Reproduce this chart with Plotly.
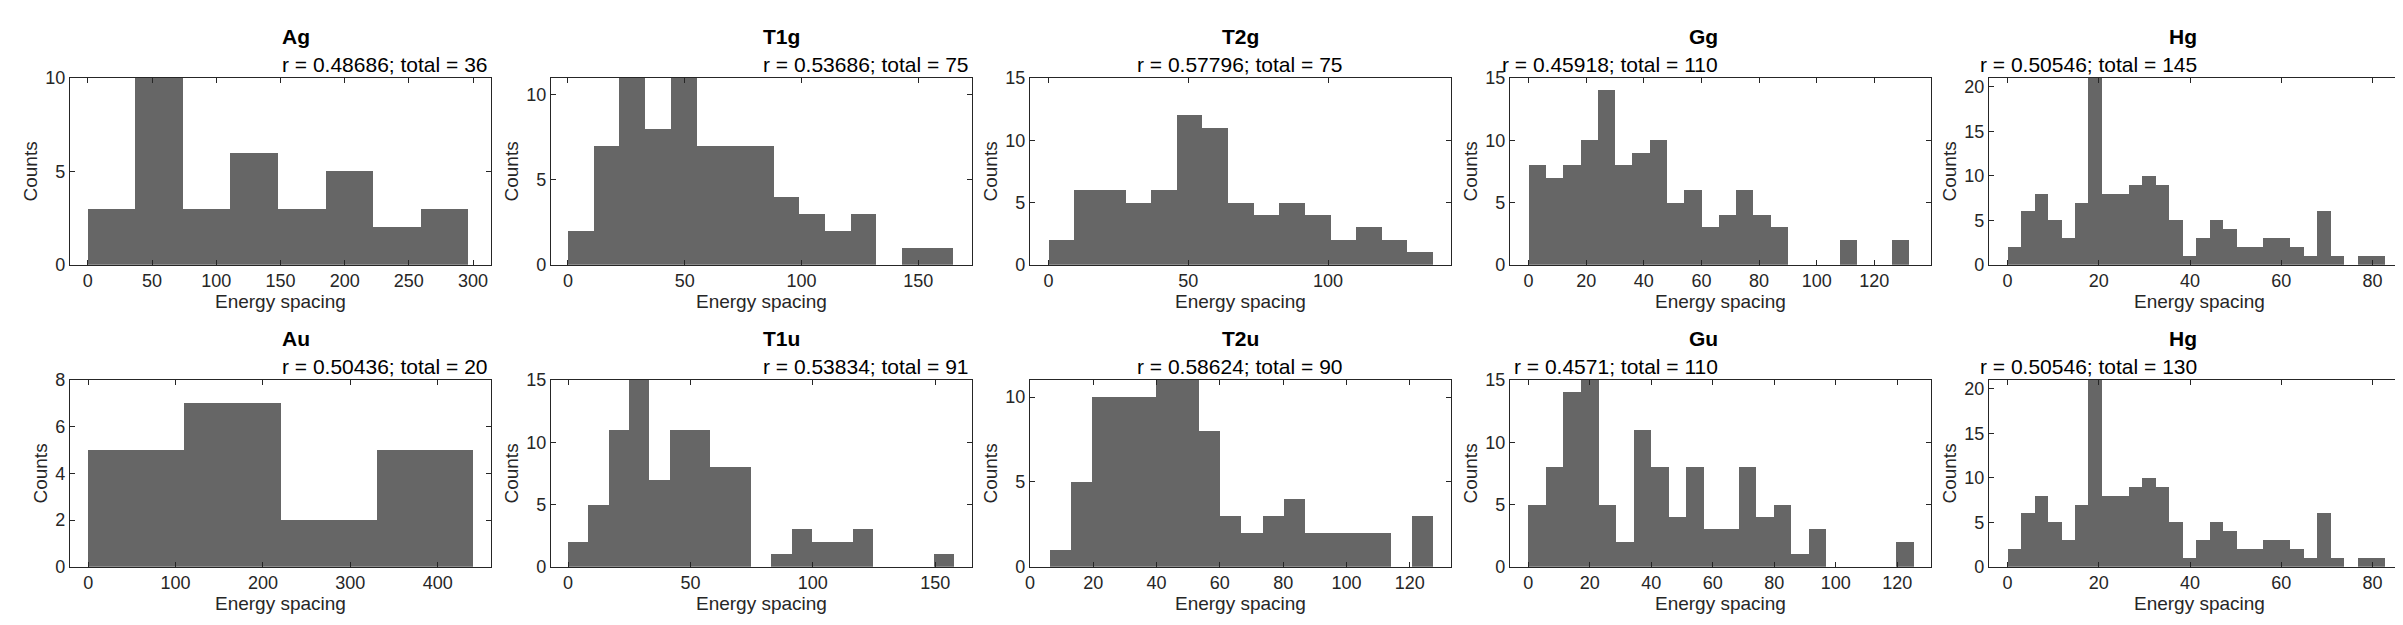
import plotly.graph_objects as go

# histogram bins: first edge, bin width, counts
names = ["Ag", "T1g", "T2g", "Gg", "Hg", "Au", "T1u", "T2u", "Gu", "Hg"]
subtitles = ["r = 0.48686; total = 36", "r = 0.53686; total = 75", "r = 0.57796; total = 75",
             "r = 0.45918; total = 110", "r = 0.50546; total = 145", "r = 0.50436; total = 20",
             "r = 0.53834; total = 91", "r = 0.58624; total = 90", "r = 0.4571; total = 110",
             "r = 0.50546; total = 130"]
bin_start = [0, 0, 0, 0, 0, 0, 0, 6.2, 0, 0]
bin_width = [37, 11, 9.17, 6, 2.95, 110, 8.3, 6.73, 5.7, 2.95]
hg_counts = [2, 6, 8, 5, 3, 7, 21, 8, 8, 9, 10, 9, 5, 1, 3, 5, 4, 2, 2, 3, 3, 2, 1, 6, 1, 0, 1, 1]
counts = [
    [3, 10, 3, 6, 3, 5, 2, 3],
    [2, 7, 11, 8, 11, 7, 7, 7, 4, 3, 2, 3, 0, 1, 1],
    [2, 6, 6, 5, 6, 12, 11, 5, 4, 5, 4, 2, 3, 2, 1],
    [8, 7, 8, 10, 14, 8, 9, 10, 5, 6, 3, 4, 6, 4, 3, 0, 0, 0, 2, 0, 0, 2],
    hg_counts,
    [5, 7, 2, 5],
    [2, 5, 11, 15, 7, 11, 11, 8, 8, 0, 1, 3, 2, 2, 3, 0, 0, 0, 1],
    [1, 5, 10, 10, 10, 11, 11, 8, 3, 2, 3, 4, 2, 2, 2, 2, 0, 3],
    [5, 8, 14, 15, 5, 2, 11, 8, 4, 8, 3, 3, 8, 4, 5, 1, 3, 0, 0, 0, 0, 2],
    hg_counts,
]
x_ranges = [[-14, 314], [-7.3, 173], [-6.7, 144], [-6.5, 139.7], [-4.1, 88.2],
            [-21, 461], [-7, 165], [0, 133], [-6, 131], [-4.1, 88.2]]
x_ticks = [list(range(0, 301, 50)), [0, 50, 100, 150], [0, 50, 100], list(range(0, 121, 20)),
           list(range(0, 81, 20)), list(range(0, 401, 100)), [0, 50, 100, 150],
           list(range(0, 121, 20)), list(range(0, 121, 20)), list(range(0, 81, 20))]
y_max = [10, 11, 15, 15, 21, 8, 15, 11, 15, 21]
y_ticks = [[0, 5, 10], [0, 5, 10], [0, 5, 10, 15], [0, 5, 10, 15], [0, 5, 10, 15, 20],
           [0, 2, 4, 6, 8], [0, 5, 10, 15], [0, 5, 10], [0, 5, 10, 15], [0, 5, 10, 15, 20]]

W, H = 2403, 625
lefts = [57, 539, 1019, 1500, 1980]
pw = 422
rows = [(62, 255), (374, 567)]

fig = go.Figure()
font = "Liberation Sans, Arial, sans-serif"
for i in range(10):
    r, c = divmod(i, 5)
    n = str(i + 1) if i else ""
    x0, x1 = lefts[c] / W, (lefts[c] + pw) / W
    top, bot = rows[r]
    y1, y0 = 1 - top / H, 1 - bot / H
    centers = [bin_start[i] + bin_width[i] * (k + 0.5) for k in range(len(counts[i]))]
    fig.add_trace(go.Bar(x=centers, y=counts[i], width=bin_width[i],
                         marker=dict(color="#666666", line=dict(width=0)),
                         xaxis="x" + n, yaxis="y" + n, showlegend=False))
    ax = dict(showgrid=False, zeroline=False, showline=True, linecolor="#262626",
              linewidth=1, mirror="ticks", ticks="inside", ticklen=5, tickcolor="#262626",
              tickfont=dict(size=18, color="#262626", family=font))
    fig.update_layout(**{
        "xaxis" + n: dict(ax, domain=[x0, x1], range=x_ranges[i], tickvals=x_ticks[i],
                          anchor="y" + n, title=dict(text="Energy spacing", standoff=4,
                                                     font=dict(size=19, color="#262626", family=font))),
        "yaxis" + n: dict(ax, domain=[y0, y1], range=[0, y_max[i]], tickvals=y_ticks[i],
                          anchor="x" + n, title=dict(text="Counts", standoff=2,
                                                     font=dict(size=19, color="#262626", family=font))),
    })
    xm = (x0 + x1) / 2
    fig.add_annotation(x=xm, y=y1, xref="paper", yref="paper", yshift=0, yanchor="bottom",
                       showarrow=False, text=subtitles[i],
                       font=dict(size=21, color="#000000", family=font))
    fig.add_annotation(x=xm, y=y1, xref="paper", yref="paper", yshift=28, yanchor="bottom",
                       showarrow=False, text="<b>" + names[i] + "</b>",
                       font=dict(size=21, color="#000000", family=font))

fig.update_layout(width=W, height=H, margin=dict(l=0, r=0, t=0, b=0), bargap=0,
                  plot_bgcolor="white", paper_bgcolor="white")
fig.write_html("out.html")
